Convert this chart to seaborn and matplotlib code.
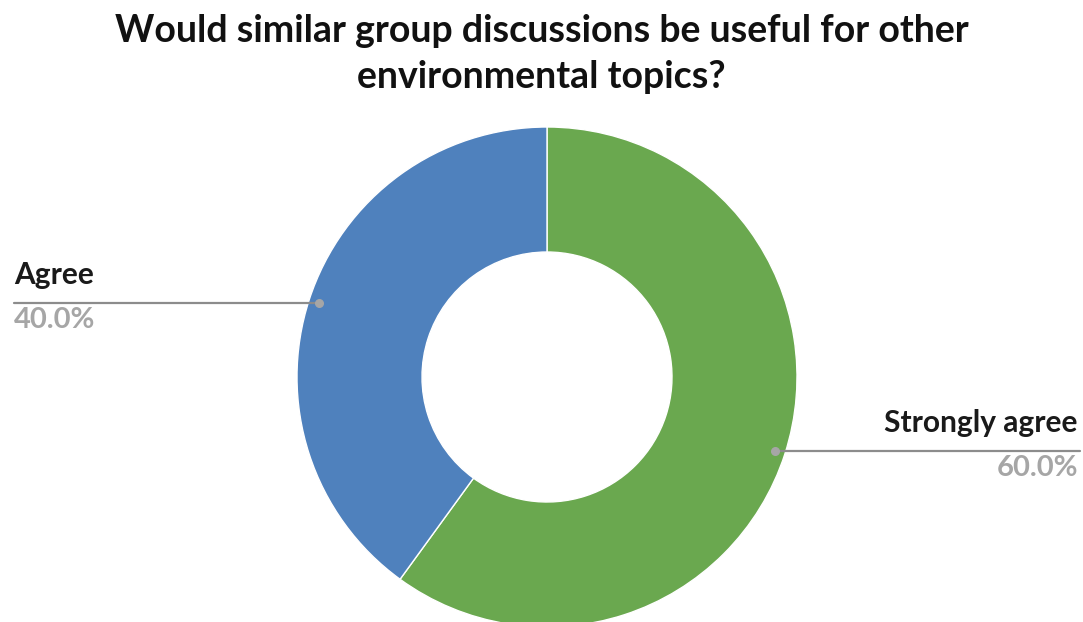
import numpy as np
import seaborn as sns
import matplotlib.pyplot as plt

# data
labels = ["Strongly agree", "Agree"]
shares = [60.0, 40.0]
colors = ["#6aa84f", "#4f81bd"]

sns.set_theme(style="white")
plt.rcParams["font.family"] = ["Lato", "DejaVu Sans"]

W, H = 1083, 622
fig = plt.figure(figsize=(W / 100, H / 100), dpi=100)
ax = fig.add_axes([0, 0, 1, 1])

cx, cy, R = 547, H - 377, 250
wedges, _ = ax.pie(shares, colors=colors, startangle=90, counterclock=False,
                   center=(cx, cy), radius=R, frame=True,
                   wedgeprops=dict(width=R * 0.5, edgecolor="white", linewidth=1))
ax.set_xlim(0, W)
ax.set_ylim(0, H)
ax.set_aspect("equal")
ax.axis("off")

# leader lines + labels
for w, lab, val in zip(wedges, labels, shares):
    ang = np.deg2rad((w.theta1 + w.theta2) / 2)
    px = cx + 0.96 * R * np.cos(ang)
    py = cy + 0.96 * R * np.sin(ang)
    if px < cx:
        x0, x1, ha, tx = 14, px, "left", 14
    else:
        x0, x1, ha, tx = px, 1080, "right", 1078
    ax.plot([x0, x1], [py, py], color="#8c8c8c", lw=1.6, zorder=3)
    ax.scatter([px], [py], s=30, color="#a6a6a6", zorder=4)
    ax.text(tx, py + 19, lab, ha=ha, va="baseline", fontsize=21.5, fontweight="bold", color="#1a1a1a")
    ax.text(tx, py - 25, f"{val:.1f}%", ha=ha, va="baseline", fontsize=21, fontweight="bold", color="#a6a6a6")

fig.text(0.5, 1 - 54 / H, "Would similar group discussions be useful for other\nenvironmental topics?",
         ha="center", va="center", fontsize=27, fontweight="bold", color="#111111", linespacing=1.42)

fig.savefig("out.png", dpi=100)
